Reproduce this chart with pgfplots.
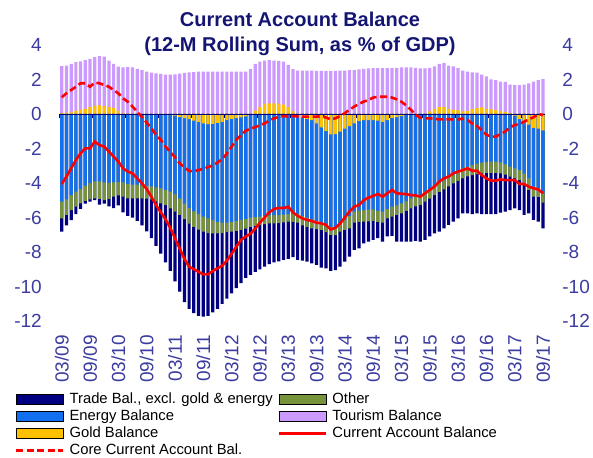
\documentclass[border=0pt]{standalone}
\usepackage{pgfplots}
\pgfplotsset{compat=1.18}
\usepackage{pgfplotstable}
\usepackage{fontspec}
\setmainfont{Liberation Sans}
\definecolor{navyc}{RGB}{0,0,128}
\definecolor{energyc}{RGB}{18,112,240}
\definecolor{otherc}{RGB}{118,147,60}
\definecolor{lavc}{RGB}{204,153,255}
\definecolor{goldc}{RGB}{255,192,0}
\definecolor{titlec}{RGB}{20,20,115}
\definecolor{tickc}{RGB}{60,60,160}
\pgfplotstableread{
i top gpos gneg eb ob tb ca core
0 2.78 0.05 0 -5.08 -6.05 -6.82 -4.06 0.97
1 2.80 0.08 0 -4.95 -5.85 -6.45 -3.63 1.20
2 2.90 0.10 0 -4.70 -5.57 -6.15 -3.15 1.39
3 3.00 0.18 0 -4.50 -5.37 -5.80 -2.67 1.58
4 3.05 0.25 0 -4.35 -5.18 -5.50 -2.28 1.78
5 3.13 0.30 0 -4.15 -5.04 -5.20 -1.99 1.78
6 3.20 0.40 0 -4.00 -4.95 -5.08 -1.99 1.58
7 3.30 0.48 0 -3.90 -4.89 -5.00 -1.60 1.82
8 3.36 0.50 0 -3.90 -4.92 -5.25 -1.80 1.78
9 3.33 0.45 0 -3.96 -4.99 -5.20 -1.89 1.68
10 3.10 0.42 0 -4.00 -4.92 -5.35 -2.18 1.58
11 2.90 0.35 0 -3.96 -4.79 -5.45 -2.47 1.39
12 2.75 0.20 0 -3.94 -4.72 -5.30 -2.76 1.20
13 2.70 0.05 0 -3.96 -4.79 -5.70 -3.15 0.91
14 2.72 0 0 -4.05 -4.89 -5.90 -3.34 0.71
15 2.70 0 0 -4.10 -4.89 -6.00 -3.44 0.43
16 2.62 0 0 -4.10 -4.89 -6.20 -3.73 0.14
17 2.55 0 0 -4.14 -4.89 -6.45 -4.02 -0.19
18 2.45 0 0 -4.15 -4.90 -6.80 -4.35 -0.50
19 2.40 0 0 -4.20 -4.95 -7.20 -4.80 -0.83
20 2.36 0 0 -4.25 -5.08 -7.65 -5.28 -1.22
21 2.33 0 0 -4.30 -5.18 -8.10 -5.70 -1.50
22 2.28 0 -0.03 -4.40 -5.28 -8.60 -6.10 -1.89
23 2.28 0 -0.06 -4.50 -5.47 -9.10 -6.60 -2.20
24 2.30 0 -0.10 -4.65 -5.66 -9.70 -7.20 -2.50
25 2.34 0 -0.18 -4.90 -5.85 -10.30 -7.80 -2.86
26 2.38 0 -0.24 -5.20 -6.10 -10.90 -8.40 -3.10
27 2.42 0 -0.30 -5.45 -6.35 -11.30 -8.85 -3.30
28 2.43 0 -0.38 -5.65 -6.55 -11.55 -9.00 -3.32
29 2.45 0 -0.46 -5.80 -6.70 -11.70 -9.15 -3.25
30 2.45 0 -0.54 -5.95 -6.82 -11.75 -9.30 -3.18
31 2.45 0 -0.58 -6.05 -6.90 -11.70 -9.30 -3.08
32 2.45 0 -0.57 -6.15 -6.92 -11.50 -9.10 -2.98
33 2.45 0 -0.52 -6.25 -6.92 -11.30 -8.95 -2.82
34 2.45 0 -0.45 -6.30 -6.90 -11.00 -8.80 -2.60
35 2.45 0 -0.35 -6.30 -6.85 -10.70 -8.50 -2.30
36 2.45 0 -0.28 -6.25 -6.82 -10.40 -8.10 -1.89
37 2.45 0 -0.24 -6.20 -6.78 -10.10 -7.70 -1.50
38 2.45 0 -0.20 -6.14 -6.72 -9.80 -7.30 -1.22
39 2.45 0 -0.14 -6.08 -6.65 -9.50 -7.10 -0.97
40 2.60 0 -0.05 -6.00 -6.55 -9.33 -6.95 -0.85
41 2.90 0.20 0 -5.98 -6.48 -9.15 -6.65 -0.76
42 3.03 0.42 0 -5.95 -6.43 -9.00 -6.30 -0.65
43 3.10 0.58 0 -5.92 -6.38 -8.85 -6.00 -0.54
44 3.13 0.62 0 -5.88 -6.34 -8.70 -5.70 -0.38
45 3.10 0.62 0 -5.86 -6.34 -8.60 -5.50 -0.25
46 3.08 0.60 0 -5.85 -6.32 -8.55 -5.45 -0.17
47 3.03 0.55 0 -5.84 -6.28 -8.46 -5.45 -0.12
48 2.85 0.40 0 -5.80 -6.24 -8.40 -5.38 -0.14
49 2.60 0.15 0 -5.78 -6.25 -8.30 -5.70 -0.12
50 2.52 0 -0.10 -5.80 -6.30 -8.45 -5.90 -0.14
51 2.52 0 -0.20 -5.90 -6.45 -8.50 -6.05 -0.15
52 2.52 0 -0.28 -6.00 -6.55 -8.56 -6.14 -0.15
53 2.52 0 -0.35 -6.12 -6.63 -8.66 -6.20 -0.15
54 2.50 0 -0.54 -6.20 -6.68 -8.75 -6.30 -0.15
55 2.50 0 -0.77 -6.25 -6.72 -8.90 -6.34 -0.14
56 2.50 0 -1.00 -6.40 -6.85 -8.95 -6.43 -0.20
57 2.50 0 -1.18 -6.55 -7.01 -9.10 -6.69 -0.31
58 2.50 0 -1.16 -6.55 -7.02 -9.05 -6.60 -0.25
59 2.52 0 -1.02 -6.35 -6.82 -8.85 -6.35 -0.12
60 2.52 0 -0.85 -6.14 -6.72 -8.56 -6.00 0.05
61 2.54 0 -0.70 -5.90 -6.63 -8.27 -5.65 0.25
62 2.55 0 -0.54 -5.66 -6.30 -7.88 -5.37 0.43
63 2.58 0 -0.40 -5.60 -6.26 -7.79 -5.28 0.58
64 2.62 0 -0.35 -5.57 -6.24 -7.50 -5.00 0.72
65 2.65 0 -0.35 -5.55 -6.22 -7.40 -4.85 0.81
66 2.66 0 -0.35 -5.53 -6.20 -7.30 -4.75 0.95
67 2.66 0 -0.39 -5.60 -6.25 -7.20 -4.64 1.00
68 2.66 0 -0.45 -5.66 -6.30 -7.40 -4.79 1.00
69 2.66 0 -0.35 -5.50 -6.05 -7.10 -4.60 1.00
70 2.67 0 -0.22 -5.37 -5.95 -7.07 -4.40 0.95
71 2.68 0 -0.18 -5.30 -5.85 -7.40 -4.60 0.85
72 2.70 0 -0.12 -5.18 -5.76 -7.40 -4.62 0.71
73 2.71 0 -0.05 -5.05 -5.62 -7.40 -4.65 0.50
74 2.71 0 0 -4.89 -5.47 -7.40 -4.70 0.25
75 2.68 0 0 -4.80 -5.35 -7.35 -4.72 -0.05
76 2.65 0 0 -4.70 -5.28 -7.40 -4.79 -0.22
77 2.65 0 0 -4.50 -5.08 -7.30 -4.60 -0.25
78 2.68 0.15 0 -4.35 -4.90 -7.10 -4.40 -0.25
79 2.76 0.30 0 -4.21 -4.70 -6.92 -4.21 -0.28
80 2.90 0.40 0 -4.00 -4.52 -6.82 -3.92 -0.31
81 2.96 0.40 0 -3.83 -4.37 -6.63 -3.73 -0.31
82 2.80 0.30 0 -3.70 -4.20 -6.43 -3.63 -0.31
83 2.76 0.25 0 -3.54 -4.02 -6.24 -3.44 -0.31
84 2.66 0.22 0 -3.35 -3.88 -6.05 -3.34 -0.31
85 2.52 0.15 0 -3.15 -3.73 -5.76 -3.25 -0.27
86 2.46 0.18 0 -3.05 -3.62 -5.76 -3.15 -0.35
87 2.42 0.28 0 -2.96 -3.54 -5.80 -3.29 -0.55
88 2.40 0.36 0 -2.88 -3.48 -5.76 -3.29 -0.70
89 2.28 0.38 0 -2.82 -3.44 -5.80 -3.54 -0.93
90 2.18 0.30 0 -2.78 -3.42 -5.80 -3.73 -1.20
91 2.00 0.28 0 -2.76 -3.42 -5.80 -3.86 -1.31
92 1.96 0.22 0 -2.76 -3.42 -5.80 -3.86 -1.31
93 1.88 0.15 0 -2.80 -3.44 -5.72 -3.79 -1.16
94 1.86 0.12 0 -2.90 -3.52 -5.66 -3.83 -1.02
95 1.70 0.05 0 -3.05 -3.63 -5.57 -3.83 -0.77
96 1.68 0 -0.10 -3.15 -3.73 -5.47 -3.83 -0.64
97 1.68 0 -0.30 -3.25 -3.83 -5.57 -4.06 -0.58
98 1.70 0 -0.55 -3.45 -4.10 -5.85 -4.06 -0.45
99 1.78 0 -0.62 -3.73 -4.40 -5.76 -4.21 -0.31
100 1.88 0 -0.80 -4.21 -4.79 -6.14 -4.31 -0.19
101 1.96 0 -0.85 -4.30 -4.80 -6.24 -4.37 0.00
102 2.02 0 -0.95 -4.60 -5.14 -6.63 -4.60 -0.06
}\data
\pgfplotsset{
  barstyle/.style={ybar, bar width=0.68, bar shift=0pt, draw=none, forget plot},
  swatch/.style={legend image code/.code={\fill[##1] (0pt,-5pt) rectangle (47pt,5pt);}},
  lineswatch/.style={legend image code/.code={\draw[##1] (0pt,0pt) -- (47pt,0pt);}},
}
\begin{document}
\begin{tikzpicture}
\useasboundingbox (-57pt,-136pt) rectangle (536pt,321pt);
\begin{axis}[
  at={(0pt,0pt)}, anchor=south west,
  scale only axis, width=490.7pt, height=276pt,
  xmin=-1, xmax=103, ymin=-12, ymax=4,
  axis line style={draw=none}, tick style={draw=none},
  xtick={0,6,...,102},
  xticklabels={03/09,09/09,03/10,09/10,03/11,09/11,03/12,09/12,03/13,09/13,03/14,09/14,03/15,09/15,03/16,09/16,03/17,09/17},
  ytick={-12,-10,...,4},
  yticklabels={-12,-10,-8,-6,-4,-2,0,2,4},
  tick label style={font=\fontsize{19}{19}\selectfont, color=tickc},
  yticklabel style={anchor=east, inner sep=0pt, xshift=-15pt},
  xticklabel style={yshift=-14pt, rotate=90, anchor=east, inner sep=0pt},
  legend columns=2,
  legend style={draw=none, fill=none, at={(-42pt,-71pt)}, anchor=north west, inner sep=0pt, outer sep=0pt,
    font=\fontsize{14.8}{16}\selectfont, row sep=2.6pt,
    nodes={inner sep=0pt, text height=11pt, text depth=3.5pt},
    /tikz/every odd column/.append style={column sep=5pt},
    /tikz/every even column/.append style={column sep=5pt}},
  legend cell align=left,
]
\addplot[barstyle, fill=lavc] table[x=i, y=top] {\data};
\addplot[barstyle, fill=goldc] table[x=i, y=gpos] {\data};
\addplot[barstyle, fill=navyc] table[x=i, y=tb] {\data};
\addplot[barstyle, fill=otherc] table[x=i, y=ob] {\data};
\addplot[barstyle, fill=energyc] table[x=i, y=eb] {\data};
\addplot[barstyle, fill=goldc] table[x=i, y=gneg] {\data};
\addplot[navyc, line width=0.8pt, forget plot] coordinates {(-0.5,0) (102.5,0)};
\addplot[ycomb, navyc, line width=0.8pt, forget plot] coordinates {(-0.5,-0.25) (6.5,-0.25) (13.5,-0.25) (20.5,-0.25) (27.5,-0.25) (34.5,-0.25) (41.5,-0.25) (48.5,-0.25) (55.5,-0.25) (62.5,-0.25) (69.5,-0.25) (76.5,-0.25) (83.5,-0.25) (90.5,-0.25) (97.5,-0.25)};
\addplot[red, line width=2.6pt, forget plot] table[x=i, y=ca] {\data};
\addplot[red, line width=2.6pt, dash pattern=on 7pt off 3.5pt, forget plot] table[x=i, y=core] {\data};
\addlegendimage{swatch, fill=navyc}
\addlegendentry{Trade Bal., excl. gold \& energy}
\addlegendimage{swatch, fill=otherc}
\addlegendentry{Other}
\addlegendimage{swatch, fill=energyc}
\addlegendentry{Energy Balance}
\addlegendimage{swatch, fill=lavc}
\addlegendentry{Tourism Balance}
\addlegendimage{swatch, fill=goldc}
\addlegendentry{Gold Balance}
\addlegendimage{lineswatch, red, line width=2.6pt}
\addlegendentry{Current Account Balance}
\addlegendimage{lineswatch, red, line width=2.6pt, dash pattern=on 7pt off 3.5pt}
\addlegendentry{Core Current Account Bal.}
\end{axis}
\begin{axis}[
  at={(0pt,0pt)}, anchor=south west,
  scale only axis, width=490.7pt, height=276pt,
  xmin=-1, xmax=103, ymin=-12, ymax=4,
  hide x axis, axis line style={draw=none}, tick style={draw=none},
  ytick={-12,-10,...,4},
  yticklabels={-12,-10,-8,-6,-4,-2,0,2,4},
  yticklabel pos=right,
  tick label style={font=\fontsize{19}{19}\selectfont, color=tickc},
  yticklabel style={anchor=west, inner sep=0pt, xshift=14.5pt},
]
\addplot[draw=none, forget plot] coordinates {(0,0)};
\end{axis}
\node[anchor=base, font=\fontsize{20}{20}\selectfont\bfseries, text=titlec] at (243pt,294pt) {Current Account Balance};
\node[anchor=base, font=\fontsize{20}{20}\selectfont\bfseries, text=titlec] at (243pt,269pt) {(12-M Rolling Sum, as \% of GDP)};
\end{tikzpicture}
\end{document}
